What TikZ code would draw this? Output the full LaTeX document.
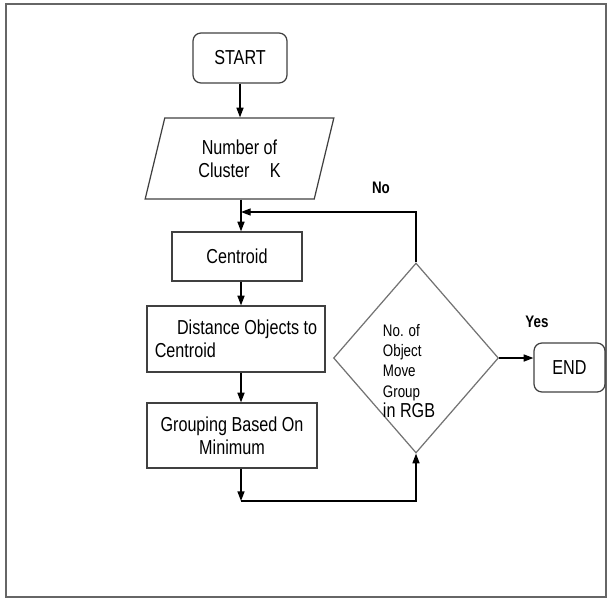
\documentclass[tikz,border=0pt]{standalone}
\usepackage{fontspec}
\setmainfont{Liberation Sans}[FakeStretch=0.8]
\usetikzlibrary{shapes.geometric,arrows.meta}

\begin{document}
\begin{tikzpicture}[x=0.02cm,y=-0.02cm,
	term/.style={draw=black!75, line width=0.7pt, rounded corners=4.5pt,
		font=\fontsize{11.5}{13}\selectfont},
	proc/.style={draw=black!75, line width=0.7pt, align=center,
		font=\fontsize{11.5}{13}\selectfont},
	arr/.style={-{Triangle[length=5.5pt,width=4pt]}, line width=0.75pt},
	lbl/.style={font=\fontsize{9.5}{11}\selectfont\bfseries}]
	\useasboundingbox (0,0) rectangle (608,599);
	\draw[draw=black!60, line width=1pt] (6,4) rectangle (606,597);

	\node (start) at (240,58) [term, minimum width=1.88cm, minimum height=1cm] {START};
	\node (kin) at (239.5,158.5) [proc, trapezium, trapezium left angle=76,
		trapezium right angle=104, trapezium stretches=true,
		minimum width=3.78cm, minimum height=1.62cm] {Number of\\Cluster\quad K};
	\node (cen) at (237,256.5) [proc, minimum width=2.6cm, minimum height=0.98cm] {Centroid};
	\node (dist) at (236,339) [proc, align=left, minimum width=3.56cm,
		minimum height=1.32cm] {\hspace{1.1em}Distance Objects to\\Centroid};
	\node (grp) at (232,435.5) [proc, minimum width=3.4cm,
		minimum height=1.3cm] {Grouping Based On\\Minimum};
	\node (q) at (416,358) [diamond, draw=black!55, line width=0.7pt, inner sep=0pt,
		minimum width=3.3cm, minimum height=3.8cm] {};
	\node (qtext) at (409,371) [align=left, font=\fontsize{9.5}{11.5}\selectfont]
		{No. of\\Object\\Move\\Group\\{\fontsize{11.5}{13}\selectfont in RGB}};
	\node (end) at (569.5,367.5) [term, minimum width=1.42cm, minimum height=0.98cm] {END};
	\node (no) at (381,188) [lbl] {No};
	\node (yes) at (537,322) [lbl] {Yes};

	% corners of the loops
	\coordinate (spine) at (241,0);
	\coordinate (fb) at (416,212);
	\coordinate (lp) at (416,501);

	\draw[arr] (start.south) -- (start.south |- kin.north);
	\draw[arr] (spine |- kin.south) -- (spine |- cen.north);
	\draw[arr] (spine |- cen.south) -- (spine |- dist.north);
	\draw[arr] (spine |- dist.south) -- (spine |- grp.north);
	\draw[arr] (spine |- grp.south) -- (spine |- lp);
	\draw[arr] (spine |- lp) -- (lp) -- (q.south);
	\draw[arr] (q.north) -- (fb) -- (fb -| spine);
	\draw[arr] (q.east) -- (q.east -| end.west);
\end{tikzpicture}
\end{document}
